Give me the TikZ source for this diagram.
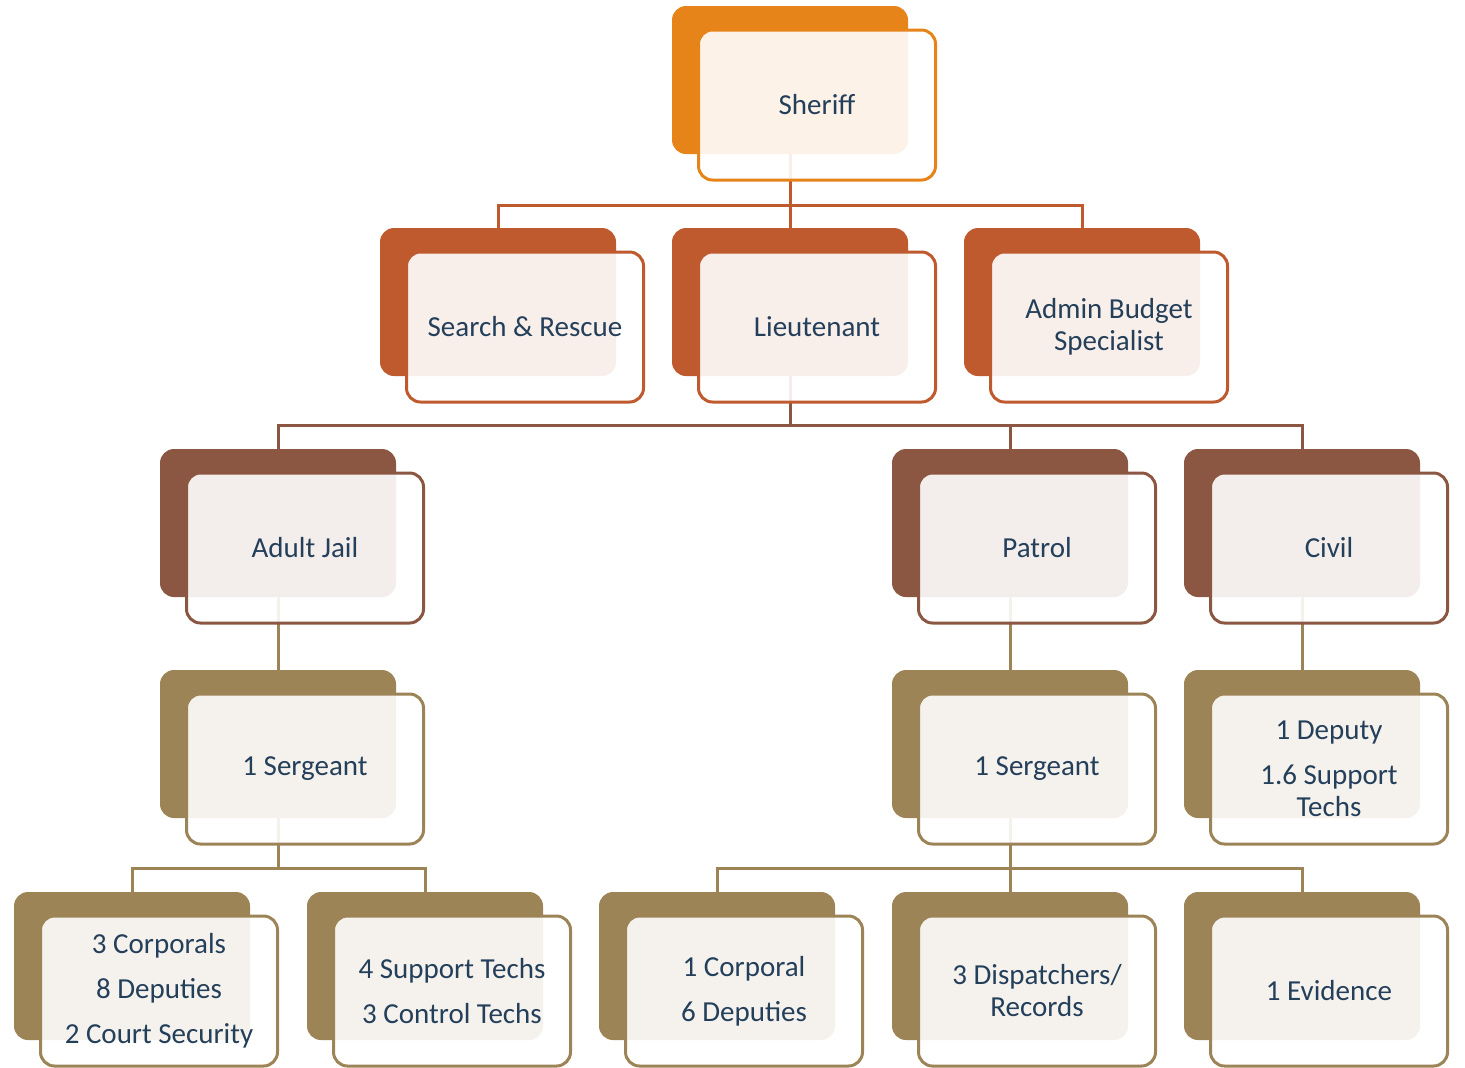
\documentclass[tikz,border=0pt]{standalone}
\usepackage{fontspec}
\setmainfont{Carlito}
\pgfdeclarelayer{background}
\pgfsetlayers{background,main}
\definecolor{cOrange}{HTML}{E6841A}
\definecolor{cRust}{HTML}{BF592E}
\definecolor{cBrown}{HTML}{8B5742}
\definecolor{cTan}{HTML}{9C8457}
\definecolor{cText}{HTML}{243F5A}
\tikzset{
  back/.style={fill=#1, rounded corners=7pt, minimum width=118pt, minimum height=74pt, inner sep=0pt},
  front/.style={draw=#1, line width=1.5pt, fill=white, fill opacity=0.9, text opacity=1,
    rounded corners=7pt, minimum width=118.5pt, minimum height=75pt, inner sep=0pt,
    align=center, text=cText, font=\fontsize{14.5}{16}\selectfont},
  link/.style={draw=#1, line width=1.5pt},
}
\begin{document}
\begin{tikzpicture}[x=0.5pt,y=-0.5pt]
\useasboundingbox (0,0) rectangle (1465,1067);
%\tikzset{gap/.style={shift={(27,25)}}}
% top
\node[back=cOrange] (sheriff) at (790,80) {};
\node[front=cOrange] (sheriff-f) at ([shift={(27,25)}]sheriff) {Sheriff};
% level 1
\node[back=cRust] (search) at (498,302) {};
\node[front=cRust] (search-f) at ([shift={(27,25)}]search) {Search \& Rescue};
\node[back=cRust] (lieut) at (790,302) {};
\node[front=cRust] (lieut-f) at ([shift={(27,25)}]lieut) {Lieutenant};
\node[back=cRust] (admin) at (1082,302) {};
\node[front=cRust] (admin-f) at ([shift={(27,25)}]admin) {Admin Budget\\Specialist};
% level 2
\node[back=cBrown] (jail) at (278,523) {};
\node[front=cBrown] (jail-f) at ([shift={(27,25)}]jail) {Adult Jail};
\node[back=cBrown] (patrol) at (1010,523) {};
\node[front=cBrown] (patrol-f) at ([shift={(27,25)}]patrol) {Patrol};
\node[back=cBrown] (civil) at (1302,523) {};
\node[front=cBrown] (civil-f) at ([shift={(27,25)}]civil) {Civil};
% level 3
\node[back=cTan] (jsgt) at (278,744) {};
\node[front=cTan] (jsgt-f) at ([shift={(27,25)}]jsgt) {1 Sergeant};
\node[back=cTan] (psgt) at (1010,744) {};
\node[front=cTan] (psgt-f) at ([shift={(27,25)}]psgt) {1 Sergeant};
\node[back=cTan] (cdep) at (1302,744) {};
\node[front=cTan] (cdep-f) at ([shift={(27,25)}]cdep) {1 Deputy\\[6.5pt]1.6 Support\\Techs};
% level 4
\node[back=cTan] (corp) at (132,966) {};
\node[front=cTan] (corp-f) at ([shift={(27,25)}]corp) {3 Corporals\\[6.5pt]8 Deputies\\[6.5pt]2 Court Security};
\node[back=cTan] (tech) at (425,966) {};
\node[front=cTan] (tech-f) at ([shift={(27,25)}]tech) {4 Support Techs\\[6.5pt]3 Control Techs};
\node[back=cTan] (pcorp) at (717,966) {};
\node[front=cTan] (pcorp-f) at ([shift={(27,25)}]pcorp) {1 Corporal\\[6.5pt]6 Deputies};
\node[back=cTan] (disp) at (1010,966) {};
\node[front=cTan] (disp-f) at ([shift={(27,25)}]disp) {3 Dispatchers/\\Records};
\node[back=cTan] (evid) at (1302,966) {};
\node[front=cTan] (evid-f) at ([shift={(27,25)}]evid) {1 Evidence};
% connectors
\begin{pgfonlayer}{background}
\coordinate (bus1) at (790,205);
\coordinate (bus2) at (790,425);
\coordinate (bus3) at (278,868);
\coordinate (bus4) at (1010,868);
\draw[link=cRust] (sheriff.south) -- (bus1) -| (search.north);
\draw[link=cRust] (bus1) -| (admin.north);
\draw[link=cRust] (bus1) -- (lieut.north);
\draw[link=cBrown] (lieut.south) -- (bus2) -| (jail.north);
\draw[link=cBrown] (bus2) -| (civil.north);
\draw[link=cBrown] (bus2) -| (patrol.north);
\draw[link=cTan] (jail.south) -- (jsgt.north);
\draw[link=cTan] (patrol.south) -- (psgt.north);
\draw[link=cTan] (civil.south) -- (cdep.north);
\draw[link=cTan] (jsgt.south) -- (bus3) -| (corp.north);
\draw[link=cTan] (bus3) -| (tech.north);
\draw[link=cTan] (psgt.south) -- (bus4) -| (pcorp.north);
\draw[link=cTan] (bus4) -| (evid.north);
\draw[link=cTan] (bus4) -- (disp.north);
\end{pgfonlayer}
\end{tikzpicture}
\end{document}
